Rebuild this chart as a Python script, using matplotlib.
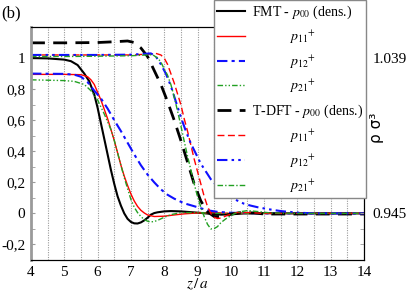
import matplotlib
matplotlib.use("Agg")
import matplotlib.pyplot as plt
from matplotlib.ticker import MultipleLocator

# FMT profiles
z_fmt00 = [4.0, 4.5, 5.0, 5.2, 5.4, 5.6, 5.75, 5.9, 6.0, 6.1, 6.2, 6.3, 6.4, 6.5, 6.6, 6.7, 6.8, 6.9, 7.0, 7.1,
           7.2, 7.3, 7.4, 7.5, 7.6, 7.7, 7.8, 8.0, 8.2, 8.5, 8.8, 9.1, 9.4, 9.7, 10.0, 10.4, 11, 12, 13, 14]
p_fmt00 = [1.0, 0.998, 0.99, 0.98, 0.955, 0.90, 0.85, 0.765, 0.68, 0.58, 0.48, 0.38, 0.28, 0.19, 0.11, 0.05, 0.0,
           -0.035, -0.055, -0.064, -0.065, -0.058, -0.045, -0.028, -0.008, 0.002, 0.007, 0.013, 0.015, 0.013,
           0.008, 0.003, -0.003, -0.008, -0.006, 0.0, 0.002, 0.0, 0.0, 0.0]

z_fmt11 = [4, 5, 5.5, 5.7, 5.8, 5.9, 6.0, 6.1, 6.2, 6.3, 6.4, 6.5, 6.6, 6.7, 6.8, 6.9, 7.0, 7.1, 7.2, 7.3, 7.4,
           7.5, 7.7, 8.0, 8.3, 8.6, 9.0, 9.5, 10, 11, 14]
p_fmt11 = [0.895, 0.895, 0.893, 0.88, 0.86, 0.83, 0.78, 0.73, 0.67, 0.61, 0.54, 0.47, 0.39, 0.31, 0.24, 0.18,
           0.125, 0.08, 0.045, 0.02, 0.003, -0.01, -0.02, -0.018, -0.01, -0.003, 0.003, 0.005, 0.0, 0.0, 0.0]

z_fmt12 = [4, 5, 5.3, 5.5, 5.7, 5.9, 6.1, 6.3, 6.5, 6.7, 6.9, 7.1, 7.3, 7.5, 7.7, 7.9, 8.1, 8.3, 8.6, 9.0, 9.3,
           9.6, 10, 11, 14]
p_fmt12 = [0.90, 0.898, 0.893, 0.88, 0.845, 0.79, 0.74, 0.675, 0.60, 0.53, 0.455, 0.38, 0.31, 0.25, 0.20, 0.155,
           0.12, 0.095, 0.065, 0.04, 0.02, 0.01, 0.004, 0.0, 0.0]

z_fmt21 = [4, 5, 5.3, 5.6, 5.8, 6.0, 6.2, 6.4, 6.5, 6.6, 6.7, 6.8, 6.9, 7.0, 7.1, 7.2, 7.3, 7.4, 7.5, 7.6, 7.7,
           7.8, 8.0, 8.2, 8.5, 9.0, 9.5, 10, 11, 14]
p_fmt21 = [0.86, 0.855, 0.85, 0.83, 0.79, 0.73, 0.64, 0.54, 0.47, 0.39, 0.31, 0.23, 0.16, 0.09, 0.04, 0.005,
           -0.02, -0.04, -0.05, -0.055, -0.052, -0.045, -0.025, -0.008, 0.005, 0.005, 0.0, 0.0, 0.0, 0.0]

# T-DFT profiles
z_tdft00 = [4, 5, 6, 6.5, 6.9, 7.1, 7.3, 7.5, 7.7, 7.9, 8.1, 8.3, 8.5, 8.7, 8.9, 9.1, 9.3, 9.5, 9.7, 10.0, 10.3,
            10.7, 11, 12, 13, 14]
p_tdft00 = [1.098, 1.098, 1.10, 1.105, 1.11, 1.10, 1.065, 1.01, 0.92, 0.83, 0.72, 0.60, 0.47, 0.33, 0.19, 0.08,
            0.01, -0.02, -0.02, -0.005, 0.005, 0.003, -0.004, -0.004, -0.004, -0.004]

z_tdft11 = [4, 5, 6, 7, 7.5, 7.75, 7.9, 8.0, 8.1, 8.2, 8.3, 8.4, 8.5, 8.6, 8.7, 8.8, 8.9, 9.0, 9.1, 9.2, 9.3, 9.4,
            9.5, 9.6, 9.7, 9.9, 10.2, 10.6, 11, 12, 14]
p_tdft11 = [1.02, 1.02, 1.02, 1.02, 1.025, 1.03, 1.02, 1.0, 0.96, 0.90, 0.84, 0.77, 0.70, 0.61, 0.53, 0.44, 0.35,
            0.27, 0.19, 0.11, 0.045, 0.0, -0.025, -0.033, -0.03, -0.012, 0.006, 0.005, 0.0, 0.0, 0.0]

z_tdft12 = [4, 5, 6, 7, 7.4, 7.6, 7.75, 7.9, 8.05, 8.2, 8.35, 8.5, 8.65, 8.8, 8.95, 9.1, 9.25, 9.4, 9.55, 9.7,
            9.85, 10.0, 10.2, 10.4, 10.6, 10.8, 11.1, 11.5, 12, 12.5, 14]
p_tdft12 = [1.02, 1.02, 1.02, 1.022, 1.027, 1.03, 1.01, 0.96, 0.90, 0.82, 0.72, 0.62, 0.53, 0.45, 0.385, 0.32,
            0.27, 0.22, 0.185, 0.15, 0.125, 0.105, 0.082, 0.062, 0.05, 0.04, 0.028, 0.015, 0.005, 0.0, 0.0]

z_tdft21 = [4, 5, 6, 7, 7.5, 7.65, 7.8, 7.9, 8.0, 8.1, 8.2, 8.3, 8.4, 8.5, 8.6, 8.7, 8.8, 8.9, 9.0, 9.1, 9.2,
            9.3, 9.4, 9.5, 9.6, 9.7, 9.85, 10.0, 10.2, 10.5, 10.8, 11.2, 12, 14]
p_tdft21 = [1.01, 1.01, 1.012, 1.015, 1.02, 1.022, 1.0, 0.975, 0.93, 0.89, 0.83, 0.75, 0.66, 0.565, 0.465, 0.37,
            0.28, 0.19, 0.11, 0.04, -0.02, -0.07, -0.10, -0.098, -0.085, -0.06, -0.035, -0.015, 0.008, 0.018,
            0.012, 0.003, 0.0, 0.0]

yticks = [-0.2, 0, 0.2, 0.4, 0.6, 0.8, 1]
ytick_labels = ["-0,2", "0", "0,2", "0,4", "0,6", "0,8", "1"]
xticks = [4, 5, 6, 7, 8, 9, 10, 11, 12, 13, 14]
right_ticks = [0, 1]
right_labels = ["0.945", "1.039"]

plt.rcParams['font.family'] = 'serif'
plt.rcParams['font.serif'] = ['Liberation Serif', 'DejaVu Serif']
plt.rcParams['mathtext.fontset'] = 'stix'

W, H = 409, 292
fig = plt.figure(figsize=(W / 100, H / 100), dpi=100)
ax = fig.add_axes([31 / W, 1 - 260 / H, 333 / W, 233 / H])

grey = '#9a9a9a'
blue = '#1010ff'
green = '#22a022'

styles = [
    (z_fmt00, p_fmt00, dict(color='black', lw=1.5, ls='-')),
    (z_fmt11, p_fmt11, dict(color='red', lw=1.0, ls='-')),
    (z_fmt12, p_fmt12, dict(color=blue, lw=1.5, dashes=(5, 2, 1.5, 2))),
    (z_fmt21, p_fmt21, dict(color=green, lw=1.0, dashes=(4, 1.5, 1, 1.5, 1, 1.5))),
    (z_tdft00, p_tdft00, dict(color='black', lw=2.0, dashes=(5, 3))),
    (z_tdft11, p_tdft11, dict(color='red', lw=1.0, dashes=(5, 2.5))),
    (z_tdft12, p_tdft12, dict(color=blue, lw=1.5, dashes=(5, 2, 1.2, 2, 1.2, 2))),
    (z_tdft21, p_tdft21, dict(color=green, lw=1.0, dashes=(4, 1.5, 1, 1.5))),
]
handles = []
for z, p, st in styles:
    ln, = ax.plot(z, p, **st)
    handles.append(ln)

ax.set_xlim(4, 14)
ax.set_ylim(-0.3, 1.2)
ax.set_xticks(xticks)
ax.xaxis.set_minor_locator(MultipleLocator(0.5))
ax.grid(axis='x', which='both', color=grey, lw=0.8, ls=(0, (1, 1.2)))
ax.tick_params(axis='x', which='both', length=0, pad=4, labelsize=11)
ax.set_yticks(yticks)
ax.set_yticklabels(ytick_labels)
ax.yaxis.set_minor_locator(MultipleLocator(0.1))
ax.tick_params(axis='y', which='both', direction='in', color=grey, length=3, labelsize=11, pad=4)
ax.spines['left'].set_color(grey)
ax.spines['left'].set_linewidth(2)
ax.set_xlabel("$z\\,/\\,a$", fontsize=11, labelpad=-1)

ax2 = ax.twinx()
ax2.set_ylim(-0.3, 1.2)
ax2.set_yticks(right_ticks)
ax2.set_yticklabels(right_labels)
ax2.yaxis.set_minor_locator(MultipleLocator(0.1))
ax2.tick_params(axis='y', which='both', direction='in', color=grey, length=3, labelsize=11, pad=6)
ax2.spines['left'].set_visible(False)

labels = ["FMT - $p_{00}$ (dens.)",
          "           $p_{11}{}^{+}$",
          "           $p_{12}{}^{+}$",
          "           $p_{21}{}^{+}$",
          "T-DFT - $p_{00}$ (dens.)",
          "           $p_{11}{}^{+}$",
          "           $p_{12}{}^{+}$",
          "           $p_{21}{}^{+}$"]
leg = ax2.legend(handles, labels, loc='upper left', bbox_to_anchor=(214 / W, 1.0),
                 bbox_transform=fig.transFigure, borderaxespad=0, fontsize=10,
                 fancybox=False, framealpha=1, edgecolor='#888888',
                 handlelength=1.95, handletextpad=0.5, labelspacing=0.53, borderpad=0.25)
leg.get_frame().set_linewidth(1.0)

fig.text(376 / W, 1 - 128 / H, "ρ σ³", rotation=90, ha='center', va='center',
         fontsize=11, family='DejaVu Sans')
fig.text(1 / W, 1 - 13 / H, "(b)", ha='left', va='center', fontsize=12)

fig.savefig("out.png", dpi=100)
